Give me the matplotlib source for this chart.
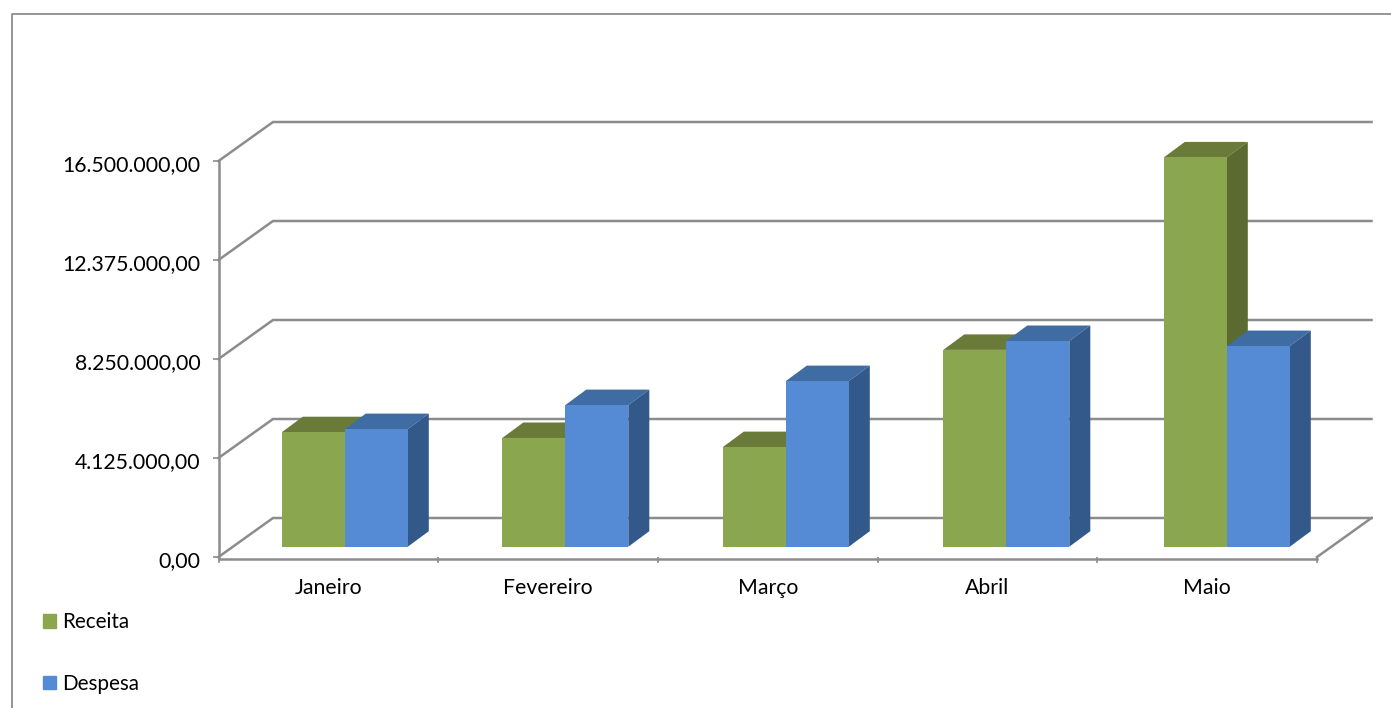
"""
Receita x Despesa, fake-3D clustered columns drawn with plain 2D patches
"""

import matplotlib
matplotlib.use("Agg")
import matplotlib.pyplot as plt
from matplotlib.lines import Line2D
from matplotlib.patches import Patch, Polygon
from matplotlib.transforms import ScaledTranslation

plt.rcParams["font.family"] = ["Lato", "DejaVu Sans"]

meses = ["Janeiro", "Fevereiro", "Março", "Abril", "Maio"]
receita = [4770000, 4530000, 4150000, 8200000, 16220000]
despesa = [4900000, 5900000, 6900000, 8570000, 8360000]
y_ticks = [0, 4125000, 8250000, 12375000, 16500000]
y_labels = ["0,00", "4.125.000,00", "8.250.000,00", "12.375.000,00", "16.500.000,00"]

W, H = 1391, 708
GRID = "#8c8c8c"
TEXT = "#000000"
FS = 15.3

# front plane of the chart, in pixels of the reference
LEFT, RIGHT, TOP, BOTTOM = 218.5, 1317, 161, 557
PX_X = 5 / (RIGHT - LEFT)
PX_Y = y_ticks[-1] / (BOTTOM - TOP)

fig = plt.figure(figsize=(W / 100, H / 100), dpi=100)
ax = fig.add_axes([LEFT / W, 1 - BOTTOM / H, (RIGHT - LEFT) / W, (BOTTOM - TOP) / H])
ax.set_xlim(0, 5)
ax.set_ylim(0, y_ticks[-1])
ax.patch.set_visible(False)
for s in ax.spines.values():
    s.set_visible(False)

# ---------------------------------------------------------------------------
# Walls and floor
# ---------------------------------------------------------------------------
wall_dx = 54.5 * PX_X
wall_dy = 39 * PX_Y
for t in y_ticks:
    ax.plot([0, wall_dx, 5 + wall_dx], [t, t + wall_dy, t + wall_dy], color=GRID,
            lw=1.8, clip_on=False, zorder=1, solid_joinstyle="miter")
ax.plot([5, 5 + wall_dx], [0, wall_dy], color=GRID, lw=1.8, clip_on=False, zorder=1)
ax.plot([0, 0], [0, y_ticks[-1]], color=GRID, lw=1.8, clip_on=False, zorder=1)
ax.plot([0, 5], [-1.5 * PX_Y, -1.5 * PX_Y], color=GRID, lw=1.8, clip_on=False, zorder=1)

ax.set_xticks(range(6))
ax.set_xticklabels([])
ax.set_yticks(y_ticks)
ax.set_yticklabels(y_labels, fontsize=FS, color=TEXT)
ax.tick_params(axis="both", color=GRID, width=1.2, length=4.5)
ax.tick_params(axis="y", pad=8.5)
shift_down = ScaledTranslation(0, -2 / 100, fig.dpi_scale_trans)
for lab in ax.get_yticklabels():
    lab.set_transform(lab.get_transform() + shift_down)
for i, m in enumerate(meses):
    ax.text(i + 0.5, -37 * PX_Y, m, ha="center", va="baseline", fontsize=FS, color=TEXT)

# ---------------------------------------------------------------------------
# Columns
# ---------------------------------------------------------------------------
bar_w = 63 * PX_X
pitch = 220.5 * PX_X
first = 126.3 * PX_X
base = 10.3 * PX_Y
dep_x = 21 * PX_X
dep_y = 15.5 * PX_Y
order = 3


def draw_column(x0, value, front, top, side, z):
    y1 = value + base
    ax.bar(x0, value, width=bar_w, bottom=base, align="edge", color=front,
           clip_on=False, zorder=z + 2)
    ax.add_patch(Polygon([(x0, y1), (x0 + dep_x, y1 + dep_y),
                          (x0 + bar_w + dep_x, y1 + dep_y), (x0 + bar_w, y1)],
                         closed=True, facecolor=top, edgecolor="none", clip_on=False, zorder=z))
    ax.add_patch(Polygon([(x0 + bar_w, base), (x0 + bar_w + dep_x, base + dep_y),
                          (x0 + bar_w + dep_x, y1 + dep_y), (x0 + bar_w, y1)],
                         closed=True, facecolor=side, edgecolor="none", clip_on=False, zorder=z + 1))


for i in range(len(meses)):
    center = first + i * pitch
    draw_column(center - bar_w, receita[i], "#8AA64E", "#6A7B39", "#5A6A30", order)
    draw_column(center, despesa[i], "#558AD5", "#3F6CA3", "#33598A", order + 3)
    order += 6

# ---------------------------------------------------------------------------
# Legend and chart frame
# ---------------------------------------------------------------------------
handles = [Patch(color="#8AA64E", label="Receita"), Patch(color="#558AD5", label="Despesa")]
fig.legend(handles=handles, loc="lower left", bbox_to_anchor=(43 / W, 1 - 694 / H),
           frameon=False, fontsize=14.9, borderpad=0, borderaxespad=0, handlelength=0.63,
           handleheight=0.63, handletextpad=0.28, labelspacing=2.01, labelcolor=TEXT)

fig.add_artist(Line2D([11.5 / W, 11.5 / W, 1], [0, 1 - 13.5 / H, 1 - 13.5 / H],
                      color=GRID, lw=1.3))

plt.savefig("out.png", dpi=100)
plt.close()
